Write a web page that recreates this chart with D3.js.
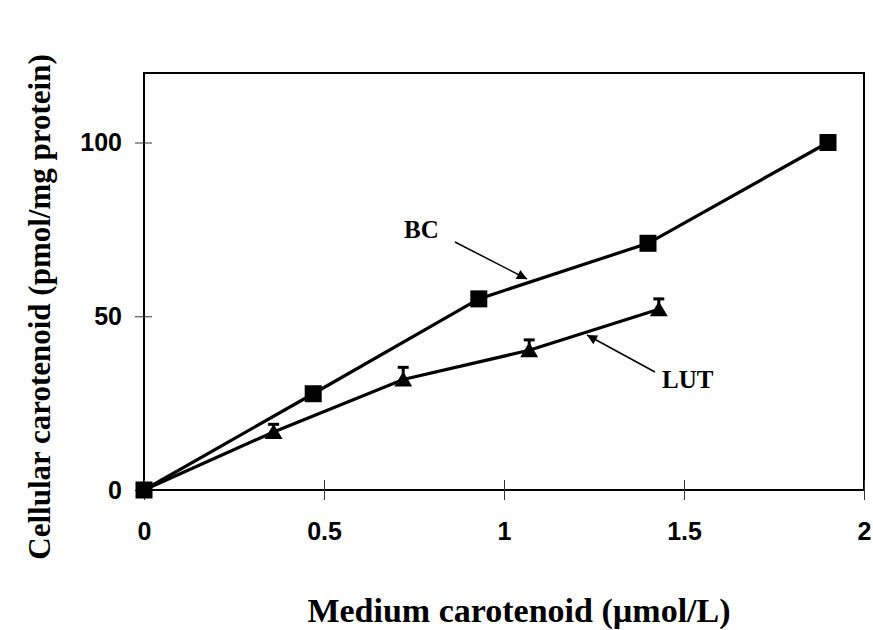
<!DOCTYPE html>
<html lang="en">
<head>
<meta charset="utf-8">
<title>Cellular vs medium carotenoid</title>
<script src="https://cdn.jsdelivr.net/npm/d3@7"></script>
<style>
  body { margin: 0; background: #fff; }
  svg { display: block; }
</style>
</head>
<body>
<svg width="873" height="630"></svg>
<script>
// data
var bcX = [0, 0.47, 0.93, 1.40, 1.90];
var bcY = [0, 27.7, 55, 71, 100];
var lutX = [0, 0.36, 0.72, 1.07, 1.43];
var lutY = [0, 16.7, 31.8, 40.2, 52];
var lutErr = [0, 2.2, 3.5, 3, 3];
var xTicks = [0, 0.5, 1, 1.5, 2];
var yTicks = [0, 50, 100];

var svg = d3.select("svg"),
    plotL = 144, plotR = 864, plotT = 73, plotB = 490;

var x = d3.scaleLinear().domain([0, 2]).range([plotL, plotR]);
var y = d3.scaleLinear().domain([0, 120]).range([plotB, plotT]);

// frame
svg.append("rect")
    .attr("x", plotL).attr("y", plotT)
    .attr("width", plotR - plotL).attr("height", plotB - plotT)
    .attr("fill", "none").attr("stroke", "#000").attr("stroke-width", 2);

// axes
var xAxis = svg.append("g")
    .attr("transform", "translate(0," + plotB + ")")
    .call(d3.axisBottom(x).tickValues(xTicks).tickFormat(d3.format("")).tickSizeOuter(0).tickSize(10).tickPadding(22));
var yAxis = svg.append("g")
    .attr("transform", "translate(" + plotL + ",0)")
    .call(d3.axisLeft(y).tickValues(yTicks).tickSizeOuter(0).tickSize(9).tickPadding(13));

xAxis.select(".domain").remove();
yAxis.select(".domain").remove();
xAxis.selectAll(".tick line").attr("y1", -10).attr("stroke", "#333");
yAxis.selectAll(".tick line").attr("x1", 8).attr("stroke", "#333");
svg.selectAll(".tick text")
    .attr("font-family", "'Liberation Sans', Arial, sans-serif")
    .attr("font-weight", "bold")
    .attr("font-size", 25)
    .attr("fill", "#000");

function pts(xs, ys) { return xs.map(function(d, i) { return [d, ys[i]]; }); }
var line = d3.line().x(function(d) { return x(d[0]); }).y(function(d) { return y(d[1]); });

var bc = pts(bcX, bcY), lut = pts(lutX, lutY);

svg.append("path").attr("d", line(lut))
    .attr("fill", "none").attr("stroke", "#000").attr("stroke-width", 3.2);
svg.append("path").attr("d", line(bc))
    .attr("fill", "none").attr("stroke", "#000").attr("stroke-width", 3.2);

// LUT error bars (upper only)
svg.selectAll(".err").data(lut).enter().append("g").attr("class", "err")
    .each(function(d, i) {
        if (!lutErr[i]) return;
        var g = d3.select(this);
        g.append("line")
            .attr("x1", x(d[0])).attr("x2", x(d[0]))
            .attr("y1", y(d[1])).attr("y2", y(d[1] + lutErr[i]))
            .attr("stroke", "#000").attr("stroke-width", 3);
        g.append("line")
            .attr("x1", x(d[0]) - 5.5).attr("x2", x(d[0]) + 5.5)
            .attr("y1", y(d[1] + lutErr[i])).attr("y2", y(d[1] + lutErr[i]))
            .attr("stroke", "#000").attr("stroke-width", 3);
    });

// markers
svg.selectAll(".tri").data(lut.slice(1)).enter().append("path")
    .attr("class", "tri")
    .attr("transform", function(d) { return "translate(" + x(d[0]) + "," + y(d[1]) + ")"; })
    .attr("d", "M0,-8 L9,7 L-9,7 Z")
    .attr("fill", "#000");
svg.selectAll(".sq").data(bc).enter().append("rect")
    .attr("class", "sq")
    .attr("x", function(d) { return x(d[0]) - 8.5; })
    .attr("y", function(d) { return y(d[1]) - 8.5; })
    .attr("width", 17).attr("height", 17)
    .attr("fill", "#000");

// annotations
var defs = svg.append("defs");
defs.append("marker").attr("id", "arr")
    .attr("viewBox", "0 0 10 10").attr("refX", 10).attr("refY", 5)
    .attr("markerWidth", 14).attr("markerHeight", 10).attr("markerUnits", "userSpaceOnUse")
    .attr("orient", "auto")
    .append("path").attr("d", "M0,0 L10,5 L0,10 Z").attr("fill", "#000");

svg.append("line").attr("x1", 455).attr("y1", 242).attr("x2", 527).attr("y2", 279)
    .attr("stroke", "#000").attr("stroke-width", 1.5).attr("marker-end", "url(#arr)");
svg.append("line").attr("x1", 655).attr("y1", 372).attr("x2", 587).attr("y2", 335)
    .attr("stroke", "#000").attr("stroke-width", 1.5).attr("marker-end", "url(#arr)");

var serif = "'Liberation Serif', 'Times New Roman', serif";
svg.append("text").attr("x", 404).attr("y", 238)
    .attr("font-family", serif).attr("font-weight", "bold").attr("font-size", 25)
    .text("BC");
svg.append("text").attr("x", 662).attr("y", 388)
    .attr("font-family", serif).attr("font-weight", "bold").attr("font-size", 25)
    .text("LUT");

// axis titles
svg.append("text").attr("x", 519).attr("y", 622)
    .attr("text-anchor", "middle")
    .attr("font-family", serif).attr("font-weight", "bold").attr("font-size", 34)
    .text("Medium carotenoid (\u00b5mol/L)");
svg.append("text")
    .attr("transform", "translate(50,307) rotate(-90)")
    .attr("text-anchor", "middle")
    .attr("font-family", serif).attr("font-weight", "bold").attr("font-size", 31)
    .text("Cellular carotenoid (pmol/mg protein)");
</script>
</body>
</html>
